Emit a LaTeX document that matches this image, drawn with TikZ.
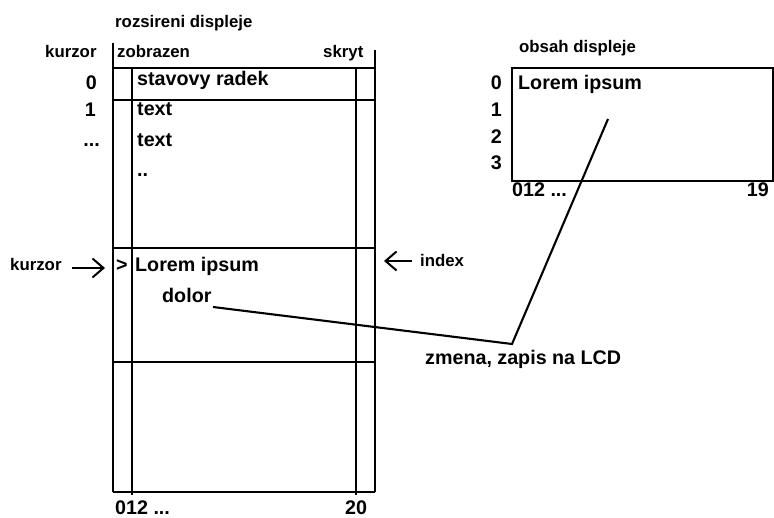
\documentclass[tikz,border=0pt]{standalone}
\usepackage{fontspec}
\setmainfont{Liberation Sans}
\usetikzlibrary{arrows.meta}
\begin{document}
\begin{tikzpicture}[x=1pt,y=-1pt,
  grid/.style={line width=2.7pt},
  conn/.style={line width=2.1pt},
  big/.style={inner sep=0pt,anchor=base west,font=\fontsize{19.7}{23}\selectfont\bfseries},
  small/.style={inner sep=0pt,anchor=base west,font=\fontsize{16.8}{20}\selectfont\bfseries},
  ptr/.style={line width=2pt,-{Straight Barb[length=11pt,width=19pt,line width=2pt]}}]
\useasboundingbox (0,0) rectangle (774,518);
% big table
\draw[grid] (113,43) -- (113,492);
\draw[grid] (375,50) -- (375,492);
\draw[grid] (132,68) -- (132,495);
\draw[grid] (356,68) -- (356,495);
\foreach \yy in {68,100,248,362,492} \draw[grid] (113,\yy) -- (375,\yy);
% labels of table
\node[small] (title) at (115,28) {rozsireni displeje};
\node[small] (kurzorTop) at (45,58) {kurzor};
\node[small] (zobr) at (117,58) {zobrazen};
\node[small] (skryt) at (323,58) {skryt};
\node[big,anchor=base east] (r0) at (97,90) {0};
\node[big,anchor=base east] (r1) at (96,117) {1};
\node[big,anchor=base east] (rdots) at (100,147) {...};
\node[big] (stav) at (137,86) {stavovy radek};
\node[big] (text1) at (137,116) {text};
\node[big] (text2) at (137,147) {text};
\node[big] (dd) at (137,177) {..};
\node[big] (gt) at (116,272) {>};
\node[big] (lorem) at (135,272) {Lorem ipsum};
\node[big] (dolor) at (162,303) {dolor};
\node[big] (b012) at (115,514) {012 ...};
\node[big] (b20) at (345,514) {20};
% pointers
\node[small] (kurzorL) at (10,271) {kurzor};
\coordinate (kA) at (72,268);
\coordinate (kB) at (105,268);
\draw[ptr] (kA) -- (kB);
\node[small] (index) at (420,267) {index};
\coordinate (iA) at (412,261);
\coordinate (iB) at (384,261);
\draw[ptr] (iA) -- (iB);
% display
\node[small] (obsah) at (519,53) {obsah displeje};
\draw[grid] (512,68) rectangle (773,181);
\node[big,anchor=base east] (d0) at (502,90) {0};
\node[big,anchor=base east] (d1) at (502,117) {1};
\node[big,anchor=base east] (d2) at (502,144) {2};
\node[big,anchor=base east] (d3) at (502,170) {3};
\node[big] (dlorem) at (518,90) {Lorem ipsum};
\node[big] (d012) at (512,197) {012 ...};
\node[big,anchor=base east] (d19) at (769,197) {19};
% connector
\coordinate (cA) at (213,307);
\coordinate (cV) at (512,344);
\coordinate (cT) at (608,119);
\draw[conn] (cA) -- (cV) -- (cT);
\node[big] (zmena) at (425,365) {zmena, zapis na LCD};
\end{tikzpicture}
\end{document}
